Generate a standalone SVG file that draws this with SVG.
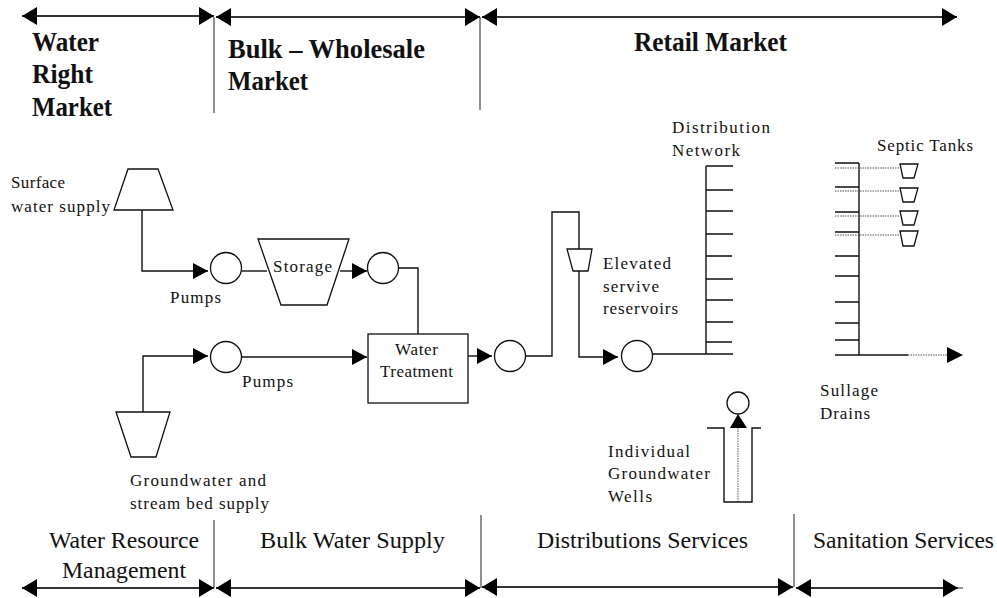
<svg xmlns="http://www.w3.org/2000/svg" width="997" height="598" viewBox="0 0 997 598">
<style>
text{font-family:"Liberation Serif","Times New Roman",serif;fill:#111}
.s{font-size:17px}
.h{font-size:28px;font-weight:bold}
.b{font-size:24px}
.l{fill:none;stroke:#111;stroke-width:1.4}
.n{fill:#fff;stroke:#111;stroke-width:1.3}
.t{fill:none;stroke:#111;stroke-width:1.3}
.d{fill:none;stroke:#555;stroke-width:1;stroke-dasharray:1.5 1}
.r{fill:none;stroke:#333;stroke-width:1.8}
.v{fill:none;stroke:#222;stroke-width:1}
</style>
<defs>
<marker id="a" markerUnits="userSpaceOnUse" markerWidth="16" markerHeight="18" viewBox="0 0 16 18" refX="15" refY="9" orient="auto"><path d="M0 1L15 9L0 17Z" fill="#000"/></marker>
<marker id="w" markerUnits="userSpaceOnUse" markerWidth="16" markerHeight="20" viewBox="0 0 16 20" refX="15" refY="10" orient="auto-start-reverse"><path d="M0 1L15 10L0 19Z" fill="#000"/></marker>
</defs>
<g id="connectors">
<path class="r" d="M22 16H214" marker-start="url(#w)" marker-end="url(#w)"/>
<path class="r" d="M216 17H480" marker-start="url(#w)" marker-end="url(#w)"/>
<path class="r" d="M482 17H957" marker-start="url(#w)" marker-end="url(#w)"/>
<path class="v" d="M214 17V113M480 17V110M214 520V588M481 515V588M794 514V587"/>
<path class="r" d="M22 588H214" marker-start="url(#w)" marker-end="url(#w)"/>
<path class="r" d="M216 588H480" marker-start="url(#w)" marker-end="url(#w)"/>
<path class="r" d="M482 587H793" marker-start="url(#w)" marker-end="url(#w)"/>
<path class="r" d="M796 588H958" marker-start="url(#w)" marker-end="url(#w)"/>
<path class="v" d="M958 588H963"/>
<path class="l" d="M142 210V271H208" marker-end="url(#a)"/>
<path class="l" d="M241 271H267"/>
<path class="l" d="M340 271H367" marker-end="url(#a)"/>
<path class="l" d="M398 268H418V334"/>
<path class="l" d="M143 412V356H208" marker-end="url(#a)"/>
<path class="l" d="M241 357H367" marker-end="url(#a)"/>
<path class="l" d="M468 356H492" marker-end="url(#a)"/>
<path class="l" d="M526 356H552V212H579V249"/>
<path class="l" d="M579 271V357H618" marker-end="url(#a)"/>
<path class="l" d="M653 354H706"/>
<path class="l" d="M706 166V354"/>
<path class="t" d="M706 166H733M706 190H733M706 211H733M706 234H733M706 256H732M706 279H733M706 300H733M706 322H733M706 342H732M706 354H733"/>
<path class="l" d="M859 163V355"/>
<path class="t" d="M835 163H859M835 187H859M835 212H859M835 232H859M835 256H859M835 276H859M835 302H859M835 323H859M835 340H859"/>
<path class="l" d="M835 355H908"/>
<path class="d" d="M908 355H947"/>
<path class="d" d="M835 168H900M835 191H900M835 216H900M835 235H900"/>
<path d="M947 347L963 355L947 363Z" fill="#000"/>
<path class="d" d="M738 428V502"/>
<path d="M738 414L747 428H730Z" fill="#000"/>
</g>
<g id="surface-supply"><path class="n" d="M128 169H158L173 210H114Z"/><text class="s" x="11" y="188" textLength="54">Surface</text><text class="s" x="11" y="212" textLength="99">water supply</text></g>
<g id="pump-1"><circle class="n" cx="226" cy="268" r="15.5"/><text class="s" x="170" y="303" textLength="51">Pumps</text></g>
<g id="storage"><path class="n" d="M258 239H349L327 305H281Z"/><text class="s" x="273" y="272" textLength="59">Storage</text></g>
<g id="pump-2"><circle class="n" cx="383" cy="268" r="15.5"/></g>
<g id="pump-3"><circle class="n" cx="226" cy="357" r="15.5"/><text class="s" x="242" y="387" textLength="51">Pumps</text></g>
<g id="groundwater-supply"><path class="n" d="M116 412H170L156 457H131Z"/><text class="s" x="130" y="486" textLength="136">Groundwater and</text><text class="s" x="130" y="509" textLength="139">stream bed supply</text></g>
<g id="treatment"><rect class="n" x="368" y="334" width="100" height="69"/><text class="s" x="395" y="355" textLength="43">Water</text><text class="s" x="380" y="377" textLength="73">Treatment</text></g>
<g id="pump-4"><circle class="n" cx="510" cy="356" r="15.5"/></g>
<g id="elevated-reservoir"><path class="n" d="M567 249H592L588 271H573Z"/><text class="s" x="603" y="269" textLength="68">Elevated</text><text class="s" x="603" y="292" textLength="56">servive</text><text class="s" x="603" y="314" textLength="75">reservoirs</text></g>
<g id="pump-5"><circle class="n" cx="637" cy="356" r="15.5"/></g>
<g id="distribution-network"><text class="s" x="672" y="133" textLength="98">Distribution</text><text class="s" x="672" y="156" textLength="68">Network</text></g>
<g id="septic-tanks"><text class="s" x="877" y="151" textLength="96">Septic Tanks</text>
<path class="n" d="M900 164H918L914 178H903Z"/><path class="n" d="M900 188H918L914 202H903Z"/><path class="n" d="M900 211H918L914 225H903Z"/><path class="n" d="M900 231H918L914 246H903Z"/></g>
<g id="sullage-drains"><text class="s" x="820" y="396" textLength="58">Sullage</text><text class="s" x="820" y="419" textLength="50">Drains</text></g>
<g id="well"><circle class="n" cx="738" cy="403" r="11"/><path class="l" d="M707 428H724V502H752V428H761"/><text class="s" x="608" y="457" textLength="82">Individual</text><text class="s" x="608" y="479" textLength="102">Groundwater</text><text class="s" x="608" y="502" textLength="44">Wells</text></g>
<g id="market-labels">
<text class="h" x="32" y="51" textLength="67" lengthAdjust="spacingAndGlyphs">Water</text><text class="h" x="32" y="83" textLength="61" lengthAdjust="spacingAndGlyphs">Right</text><text class="h" x="32" y="116" textLength="80" lengthAdjust="spacingAndGlyphs">Market</text>
<text class="h" x="228" y="58" textLength="197" lengthAdjust="spacingAndGlyphs">Bulk – Wholesale</text><text class="h" x="228" y="90" textLength="80" lengthAdjust="spacingAndGlyphs">Market</text>
<text class="h" x="634" y="51" textLength="153" lengthAdjust="spacingAndGlyphs">Retail Market</text>
</g>
<g id="service-labels">
<text class="b" x="49" y="548" textLength="150" lengthAdjust="spacingAndGlyphs">Water Resource</text><text class="b" x="62" y="578" textLength="124" lengthAdjust="spacingAndGlyphs">Management</text>
<text class="b" x="260" y="548" textLength="185" lengthAdjust="spacingAndGlyphs">Bulk Water Supply</text>
<text class="b" x="537" y="548" textLength="211" lengthAdjust="spacingAndGlyphs">Distributions Services</text>
<text class="b" x="813" y="548" textLength="181" lengthAdjust="spacingAndGlyphs">Sanitation Services</text>
</g>
</svg>
